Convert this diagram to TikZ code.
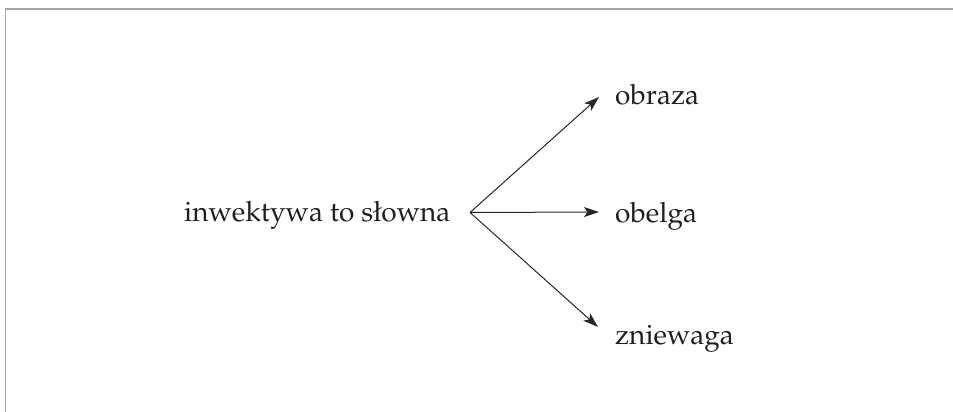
\documentclass[tikz,border=0pt]{standalone}
\usepackage[T1]{fontenc}
\usepackage{mathpazo}
\usetikzlibrary{arrows.meta}
\begin{document}
\begin{tikzpicture}[x=1pt,y=-1pt,
  lbl/.style={anchor=base west, inner sep=0pt, text=black!88,
              font=\fontsize{28}{34}\selectfont},
  link/.style={-{Stealth[length=15pt,width=10pt,inset=3.5pt]},
               line width=1pt, draw=black!85}]
  \useasboundingbox (0,0) rectangle (953,412);
  % partial frame: left and top edges
  \draw[gray!70, line width=1.3pt] (5.7,412) -- (5.7,8.9) -- (953,8.9);
  % source term and its three variants
  \node[lbl] (src) at (184,221.7) {inwektywa to s\l owna};
  \node[lbl] (t1) at (615,104) {obraza};
  \node[lbl] (t2) at (615,222.3) {obelga};
  \node[lbl] (t3) at (615,344) {zniewaga};
  \coordinate (hub) at ([shift={(286,-9.2)}]src.base west);
  \draw[link] (hub) -- ([shift={(-16,-7)}]t1.base west);
  \draw[link] (hub) -- ([shift={(-16,-10.3)}]t2.base west);
  \draw[link] (hub) -- ([shift={(-17,-17)}]t3.base west);
\end{tikzpicture}
\end{document}
